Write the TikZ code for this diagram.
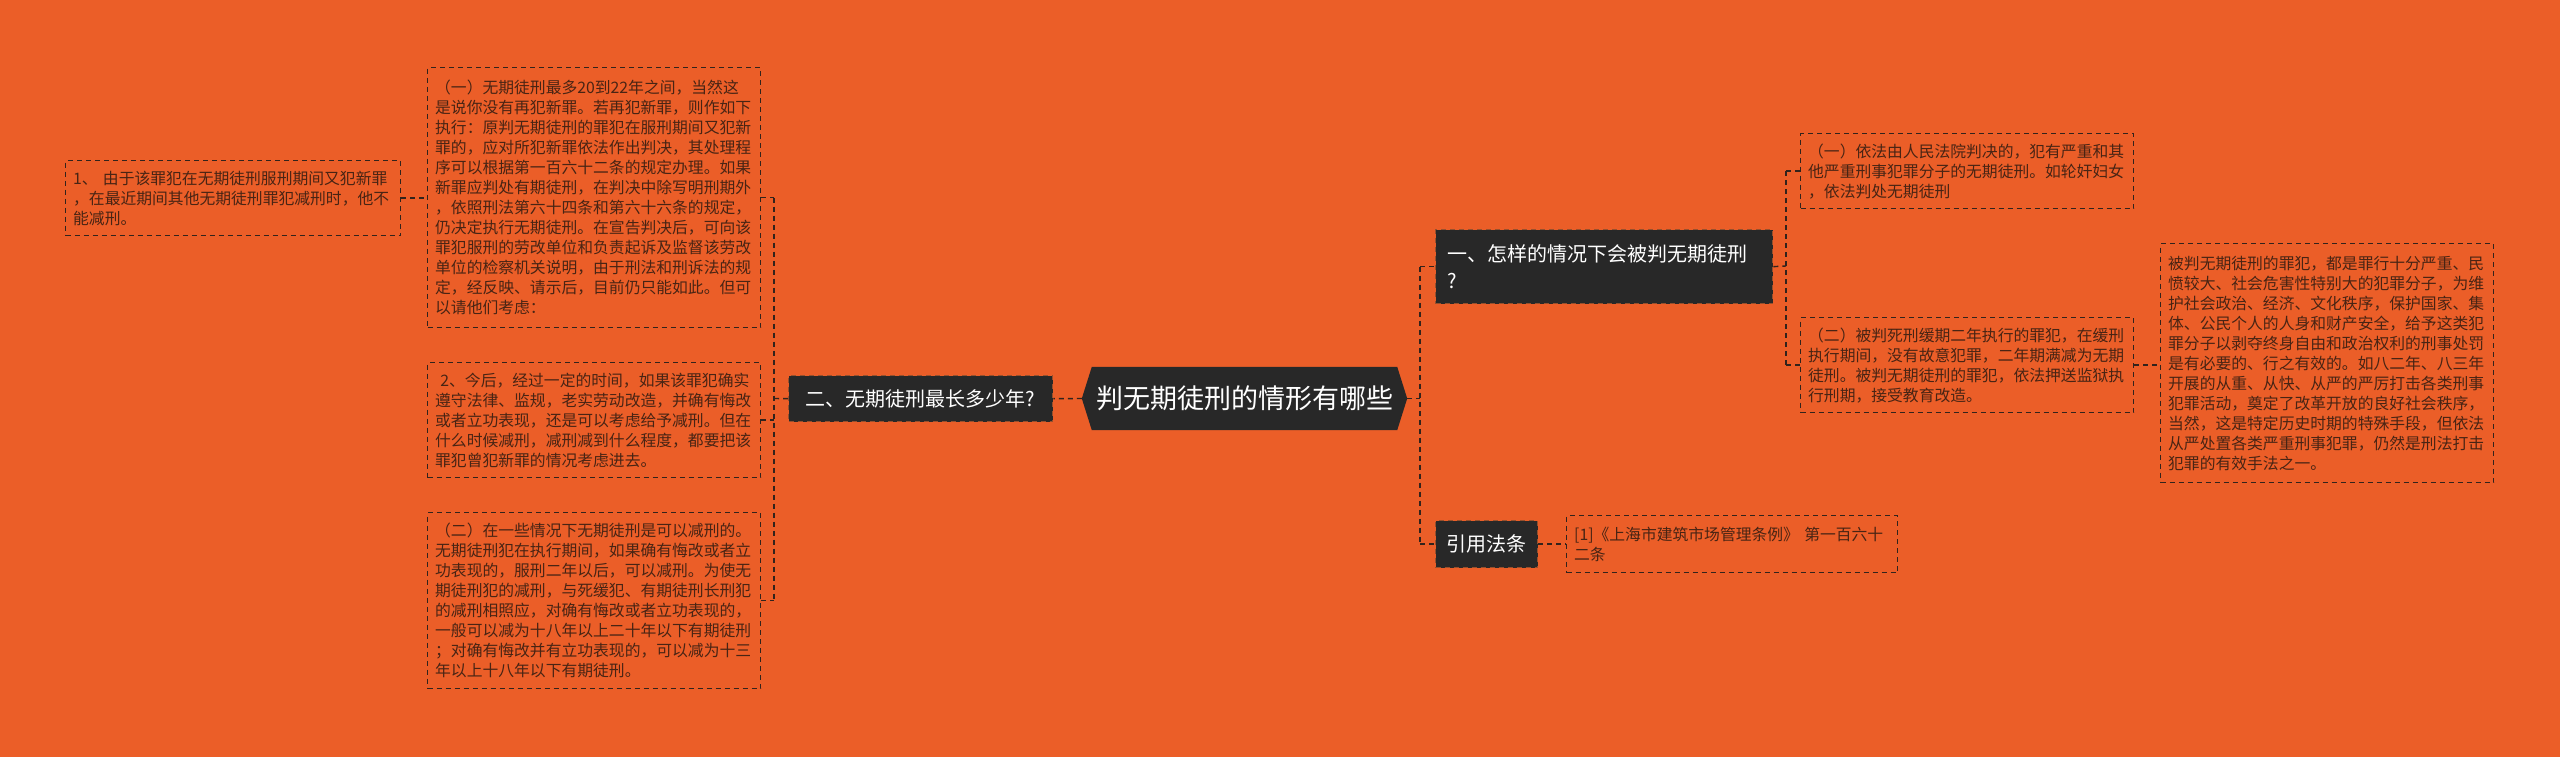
\documentclass[tikz,border=0pt]{standalone}
\usepackage{fontspec}
\setmainfont{Noto Sans CJK SC}
\usetikzlibrary{backgrounds}
\definecolor{bgc}{RGB}{235,94,40}
\definecolor{darkc}{RGB}{40,40,40}
\definecolor{linec}{RGB}{50,35,28}
\definecolor{leaftext}{RGB}{72,36,20}
\definecolor{darkedge}{RGB}{150,80,45}
\begin{document}
\begin{tikzpicture}[x=1pt,y=-1pt,
  conn/.style={draw=linec, line width=1.4pt, dash pattern=on 5pt off 4pt},
  leaf/.style={draw=linec, line width=1.3pt, dash pattern=on 5pt off 4pt, text=leaftext,
    font=\fontsize{15.8}{20}\selectfont, align=left, text width=318pt,
    inner xsep=7.5pt, inner ysep=0pt, anchor=north west},
  topic/.style={fill=darkc, draw=darkedge, line width=1.3pt, dash pattern=on 5pt off 4pt,
    text=white, font=\fontsize{20}{27}\selectfont, anchor=north west, inner sep=0pt}]
\useasboundingbox (0,0) rectangle (2560,757);

% central
\node[text=white, font=\fontsize{27}{32}\selectfont, minimum width=325pt, minimum height=63pt, inner sep=0pt]
  (c) at (1244.5,398.5) {判无期徒刑的情形有哪些};

% left branch
\node[topic, minimum width=264pt, minimum height=46pt] (L) at (788,375) {二、无期徒刑最长多少年?};
\node[leaf, minimum height=260pt] (A) at (427,67) {（一）无期徒刑最多20到22年之间，当然这\\是说你没有再犯新罪。若再犯新罪，则作如下\\执行：原判无期徒刑的罪犯在服刑期间又犯新\\罪的，应对所犯新罪依法作出判决，其处理程\\序可以根据第一百六十二条的规定办理。如果\\新罪应判处有期徒刑，在判决中除写明刑期外\\，依照刑法第六十四条和第六十六条的规定，\\仍决定执行无期徒刑。在宣告判决后，可向该\\罪犯服刑的劳改单位和负责起诉及监督该劳改\\单位的检察机关说明，由于刑法和刑诉法的规\\定，经反映、请示后，目前仍只能如此。但可\\以请他们考虑：};
\node[leaf, minimum height=115pt] (B) at (427,362) {\ 2、今后，经过一定的时间，如果该罪犯确实\\遵守法律、监规，老实劳动改造，并确有悔改\\或者立功表现，还是可以考虑给予减刑。但在\\什么时候减刑，减刑减到什么程度，都要把该\\罪犯曾犯新罪的情况考虑进去。};
\node[leaf, minimum height=176pt] (C) at (427,512) {（二）在一些情况下无期徒刑是可以减刑的。\\无期徒刑犯在执行期间，如果确有悔改或者立\\功表现的，服刑二年以后，可以减刑。为使无\\期徒刑犯的减刑，与死缓犯、有期徒刑长刑犯\\的减刑相照应，对确有悔改或者立功表现的，\\一般可以减为十八年以上二十年以下有期徒刑\\；对确有悔改并有立功表现的，可以减为十三\\年以上十八年以下有期徒刑。};
\node[leaf, minimum height=75pt, text width=320pt] (D) at (65,160) {1、 由于该罪犯在无期徒刑服刑期间又犯新罪\\，在最近期间其他无期徒刑罪犯减刑时，他不\\能减刑。};

% right branch
\node[topic, minimum width=337pt, minimum height=74pt, text width=313pt, align=left, inner xsep=12pt] (N) at (1435,229) {一、怎样的情况下会被判无期徒刑\\?};
\node[topic, minimum width=102pt, minimum height=47pt] (R) at (1435,520) {引用法条};
\node[leaf, minimum height=75pt] (E) at (1800,133) {（一）依法由人民法院判决的，犯有严重和其\\他严重刑事犯罪分子的无期徒刑。如轮奸妇女\\，依法判处无期徒刑};
\node[leaf, minimum height=95pt] (F) at (1800,317) {（二）被判死刑缓期二年执行的罪犯，在缓刑\\执行期间，没有故意犯罪，二年期满减为无期\\徒刑。被判无期徒刑的罪犯，依法押送监狱执\\行刑期，接受教育改造。};
\node[leaf, minimum height=239pt] (G) at (2160,243) {被判无期徒刑的罪犯，都是罪行十分严重、民\\愤较大、社会危害性特别大的犯罪分子，为维\\护社会政治、经济、文化秩序，保护国家、集\\体、公民个人的人身和财产安全，给予这类犯\\罪分子以剥夺终身自由和政治权利的刑事处罚\\是有必要的、行之有效的。如八二年、八三年\\开展的从重、从快、从严的严厉打击各类刑事\\犯罪活动，奠定了改革开放的良好社会秩序，\\当然，这是特定历史时期的特殊手段，但依法\\从严处置各类严重刑事犯罪，仍然是刑法打击\\犯罪的有效手法之一。};
\node[leaf, minimum height=57pt, text width=316pt] (H) at (1566,515) {[1]《上海市建筑市场管理条例》 第一百六十\\二条};

% connectors left
\draw[conn] (c.west) -- (L.east);
\coordinate (jl) at (774,398.5);
\draw[conn] (L.west) -- (jl);
\draw[conn] (A.east -| jl) -- (C.east -| jl);
\draw[conn] (A.east) -- (A.east -| jl);
\draw[conn] (B.east) -- (B.east -| jl);
\draw[conn] (C.east) -- (C.east -| jl);
\draw[conn] (D.east) -- (D.east -| A.west);

% connectors right
\coordinate (jr) at (1420,398.5);
\draw[conn] (c.east) -- (jr);
\draw[conn] (jr |- N.west) -- (jr |- R.west);
\draw[conn] (jr |- N.west) -- (N.west);
\draw[conn] (jr |- R.west) -- (R.west);
\coordinate (jn) at (1786,266);
\draw[conn] (N.east) -- (jn);
\draw[conn] (jn |- E.west) -- (jn |- F.west);
\draw[conn] (jn |- E.west) -- (E.west);
\draw[conn] (jn |- F.west) -- (F.west);
\draw[conn] (F.east) -- (F.east -| G.west);
\draw[conn] (R.east) -- (H.west);

\begin{scope}[on background layer]
\fill[bgc] (0,0) rectangle (2560,757);
\fill[darkc] (c.west) -- ([xshift=10pt]c.north west) -- ([xshift=-10pt]c.north east) -- (c.east)
  -- ([xshift=-10pt]c.south east) -- ([xshift=10pt]c.south west) -- cycle;
\end{scope}
\end{tikzpicture}
\end{document}
